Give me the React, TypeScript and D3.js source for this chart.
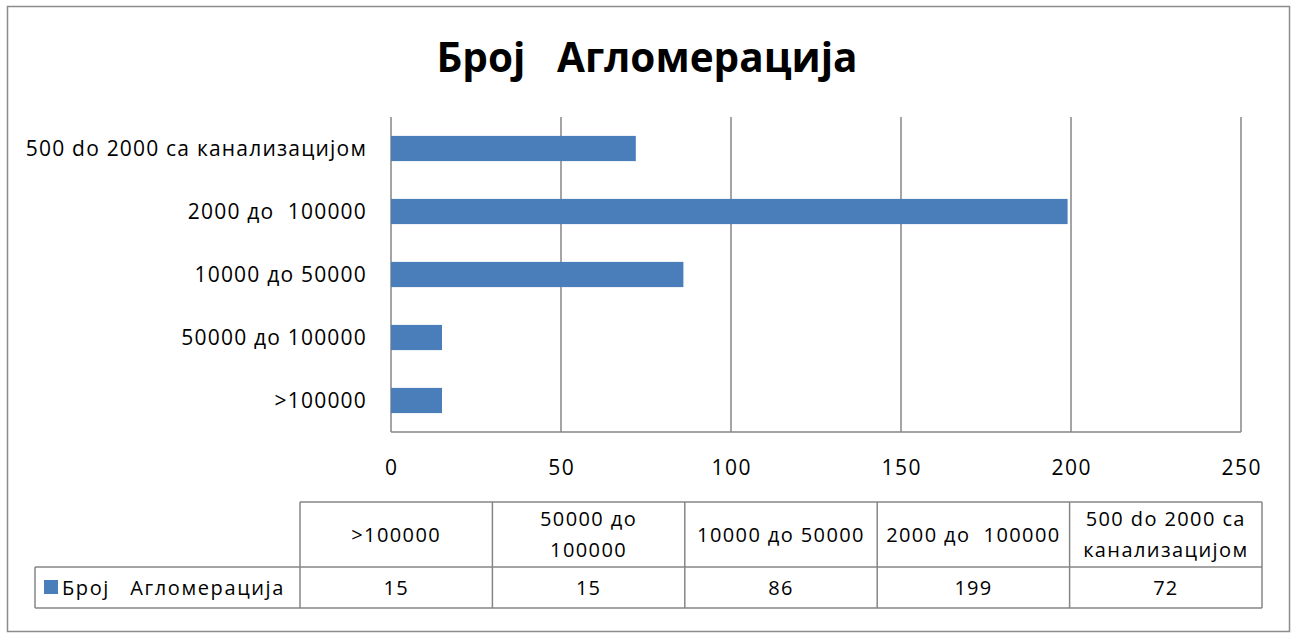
import React from "react";
import * as d3 from "d3";

const categories = [">100000", "50000 до 100000", "10000 до 50000", "2000 до  100000", "500 do 2000 са канализацијом"];
const values = [15, 15, 86, 199, 72];
const xTicks = [0, 50, 100, 150, 200, 250];
const headerLines = [[">100000"], ["50000 до", "100000"], ["10000 до 50000"], ["2000 до  100000"], ["500 do 2000 са", "канализацијом"]];
const seriesName = "Број   Агломерација";
const title = "Број   Агломерација";

const W = 1292, H = 635;
const FONT = "'Open Sans', 'Noto Sans', sans-serif";
const BAR = "#4a7ebb";
const GRID = "#868686";

export default function App() {
  const x = d3.scaleLinear().domain([0, 250]).range([391, 1241]);
  const y = d3.scaleBand<string>().domain([...categories].reverse()).range([117, 432]).paddingInner(0.6).paddingOuter(0.3);
  const band = d3.scaleBand<string>().domain(categories).range([300, 1262]);
  const rowTop = 502, rowMid = 567, rowBot = 608;
  return (
    <svg width={W} height={H} style={{ position: "absolute", left: 0, top: 0, fontFamily: FONT }}>
      <rect x={0} y={0} width={W} height={H} fill="#fff" />
      <rect x={7.5} y={6.5} width={1282} height={625} fill="#fff" stroke="#8c8c8c" strokeWidth={1.5} />
      <text x={647} y={72} textAnchor="middle" fontSize={40.5} fontWeight={700} fill="#000" style={{ whiteSpace: "pre" }}>{title}</text>
      {xTicks.map((t) => (
        <line key={"g" + t} x1={x(t)} x2={x(t)} y1={117} y2={432} stroke={GRID} strokeWidth={1.5} />
      ))}
      <line x1={x(0)} x2={x(250)} y1={432} y2={432} stroke={GRID} strokeWidth={1.5} />
      {categories.map((c, i) => (
        <rect key={"b" + c} x={x(0)} y={y(c)} width={x(values[i]) - x(0)} height={y.bandwidth()} fill={BAR} />
      ))}
      {categories.map((c) => (
        <text key={"l" + c} x={367} y={(y(c) as number) + y.bandwidth() / 2} dy="0.35em" textAnchor="end" fontSize={21} letterSpacing={1.2} fill="#000" style={{ whiteSpace: "pre" }}>{c}</text>
      ))}
      {xTicks.map((t) => (
        <text key={"t" + t} x={x(t) + 0.7} y={467.5} dy="0.35em" textAnchor="middle" fontSize={21} letterSpacing={1.4} fill="#000">{t}</text>
      ))}
      {/* data table */}
      <g stroke={GRID} strokeWidth={1.5} fill="none">
        <line x1={300} x2={1262} y1={rowTop} y2={rowTop} />
        <line x1={35} x2={1262} y1={rowMid} y2={rowMid} />
        <line x1={35} x2={1262} y1={rowBot} y2={rowBot} />
        <line x1={35} x2={35} y1={rowMid} y2={rowBot} />
        {categories.map((c) => (
          <line key={"v" + c} x1={band(c)} x2={band(c)} y1={rowTop} y2={rowBot} />
        ))}
        <line x1={1262} x2={1262} y1={rowTop} y2={rowBot} />
      </g>
      {categories.map((c, i) => {
        const cx = (band(c) as number) + band.bandwidth() / 2;
        const lines = headerLines[i];
        const cy = (rowTop + rowMid) / 2;
        return (
          <g key={"h" + c}>
            {lines.map((ln, j) => (
              <text key={j} x={cx} y={cy + (j - (lines.length - 1) / 2) * 31} dy="0.35em" textAnchor="middle" fontSize={20} letterSpacing={1.4} fill="#000" style={{ whiteSpace: "pre" }}>{ln}</text>
            ))}
            <text x={cx} y={(rowMid + rowBot) / 2} dy="0.35em" textAnchor="middle" fontSize={20} letterSpacing={1.2} fill="#000">{values[i]}</text>
          </g>
        );
      })}
      <rect x={44} y={580} width={14} height={14} fill={BAR} />
      <text x={62} y={(rowMid + rowBot) / 2} dy="0.35em" fontSize={20} letterSpacing={1.6} fill="#000" style={{ whiteSpace: "pre" }}>{seriesName}</text>
    </svg>
  );
}
